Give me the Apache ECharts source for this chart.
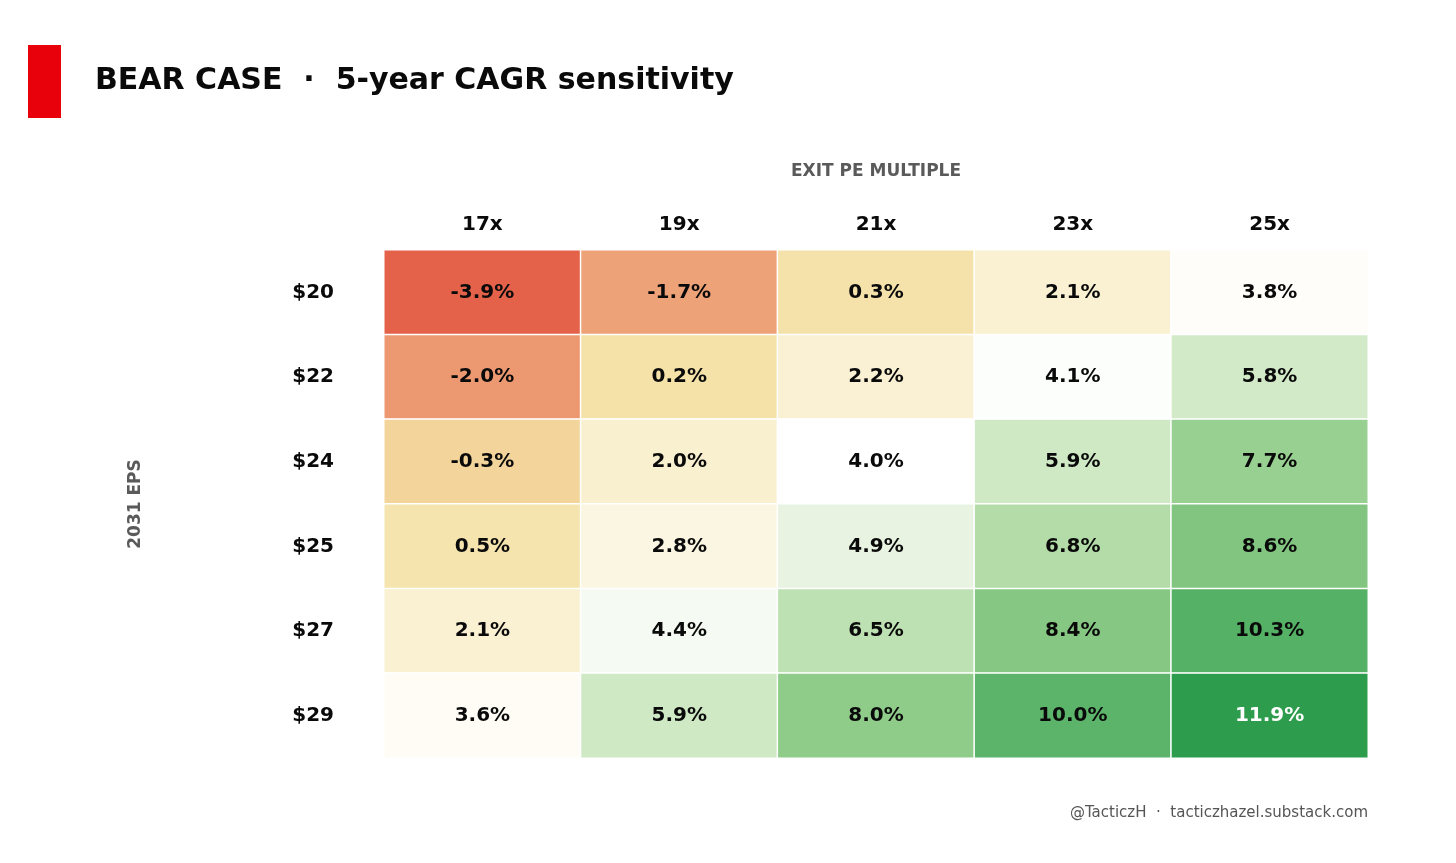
<!DOCTYPE html>
<html>
<head>
<meta charset="utf-8">
<title>BEAR CASE - 5-year CAGR sensitivity</title>
<script src="https://cdn.jsdelivr.net/npm/echarts@6/dist/echarts.min.js"></script>
<style>
  html, body { margin: 0; padding: 0; background: #fff; font-family: "DejaVu Sans", sans-serif; }
  #chart { width: 1456px; height: 863px; }
</style>
</head>
<body>
<div id="chart"></div>
<script>
// exit PE multiples (columns) and 2031 EPS (rows)
var peMultiples = ["17x", "19x", "21x", "23x", "25x"];
var epsLevels = ["$20", "$22", "$24", "$25", "$27", "$29"];

// 5-year CAGR in %, one row per EPS level
var cagrRows = [
  [-3.9, -1.7, 0.3, 2.1, 3.8],
  [-2.0, 0.2, 2.2, 4.1, 5.8],
  [-0.3, 2.0, 4.0, 5.9, 7.7],
  [0.5, 2.8, 4.9, 6.8, 8.6],
  [2.1, 4.4, 6.5, 8.4, 10.3],
  [3.6, 5.9, 8.0, 10.0, 11.9]
];

var FONT = "'DejaVu Sans', Verdana, sans-serif";

var cells = [];
cagrRows.forEach(function (row, r) {
  row.forEach(function (v, c) {
    cells.push({
      value: [c, r, v],
      label: { color: v >= 11 ? "#ffffff" : "#0a0a0a" }
    });
  });
});

var chart = echarts.init(document.getElementById("chart"));

chart.setOption({
  backgroundColor: "#ffffff",
  animation: false,
  textStyle: { fontFamily: FONT },
  graphic: [
    { type: "rect", left: 28, top: 45, shape: { width: 33, height: 73 }, style: { fill: "#e8000b" } },
    {
      type: "text", left: 95, top: 66,
      style: { text: "BEAR CASE  ·  5-year CAGR sensitivity", font: "bold 30px " + FONT, fill: "#0a0a0a" }
    },
    {
      type: "text", right: 88, top: 806,
      style: { text: "@TacticzH  ·  tacticzhazel.substack.com", font: "15px " + FONT, fill: "#555555" }
    }
  ],
  grid: { left: 384, right: 88, top: 250, bottom: 105 },
  xAxis: {
    type: "category",
    position: "top",
    data: peMultiples,
    name: "EXIT PE MULTIPLE",
    nameLocation: "middle",
    nameGap: 70,
    nameTextStyle: { fontFamily: FONT, fontWeight: "bold", fontSize: 17, color: "#5a5a5a" },
    axisLine: { show: false },
    axisTick: { show: false },
    splitArea: { show: false },
    axisLabel: { fontFamily: FONT, fontWeight: "bold", fontSize: 20, color: "#0a0a0a", margin: 15 }
  },
  yAxis: {
    type: "category",
    inverse: true,
    data: epsLevels,
    name: "2031 EPS",
    nameLocation: "middle",
    nameGap: 240,
    nameTextStyle: { fontFamily: FONT, fontWeight: "bold", fontSize: 17, color: "#5a5a5a" },
    axisLine: { show: false },
    axisTick: { show: false },
    axisLabel: { fontFamily: FONT, fontWeight: "bold", fontSize: 20, color: "#0a0a0a", margin: 50 }
  },
  visualMap: {
    show: false,
    type: "continuous",
    dimension: 2,
    min: -4,
    max: 12,
    inRange: {
      color: [
        "#e45f48", "#e97d5e", "#ec9870", "#efba88", "#f4e0a4", "#f6e8b8",
        "#f9f0d0", "#fcf7e6", "#ffffff", "#e5f2df", "#cde8c2", "#acd9a2",
        "#8fcc8a", "#78c179", "#5cb46a", "#45a95b", "#2a9b4b"
      ]
    }
  },
  series: [{
    type: "heatmap",
    data: cells,
    itemStyle: { borderColor: "#ffffff", borderWidth: 1.5 },
    label: {
      show: true,
      fontFamily: FONT,
      fontWeight: "bold",
      fontSize: 20,
      formatter: function (p) { return p.value[2].toFixed(1) + "%"; }
    },
    emphasis: { disabled: true }
  }]
});
</script>
</body>
</html>
